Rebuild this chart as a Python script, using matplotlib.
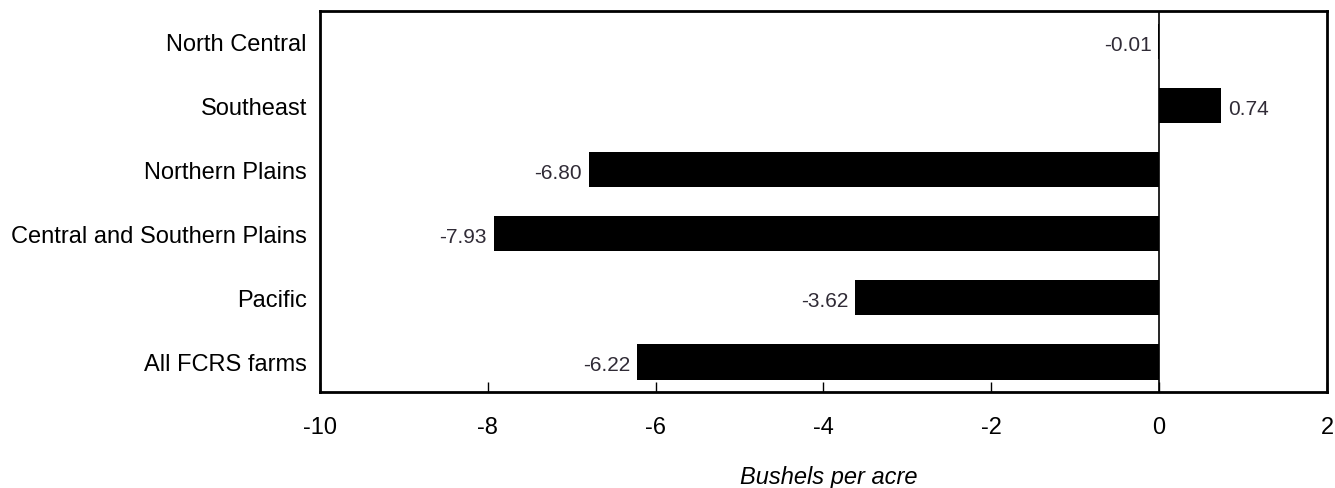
import matplotlib
matplotlib.use("Agg")
import matplotlib.pyplot as plt

categories = ["North Central", "Southeast", "Northern Plains",
              "Central and Southern Plains", "Pacific", "All FCRS farms"]
values = [-0.01, 0.74, -6.80, -7.93, -3.62, -6.22]
value_labels = ["-0.01", "0.74", "-6.80", "-7.93", "-3.62", "-6.22"]
xticks = [-10, -8, -6, -4, -2, 0, 2]

plt.rcParams['font.family'] = ['Liberation Sans', 'DejaVu Sans']

fig = plt.figure(figsize=(13.35, 4.89), dpi=100)
ax = fig.add_axes([320/1335, 1-393/489, 1007/1335, 381/489])

ypos = list(range(len(categories)))
ax.barh(ypos, values, height=0.55, color='black', zorder=2)
ax.axvline(0, color='black', lw=1.2, zorder=3)

for y, v, lab in zip(ypos, values, value_labels):
    if v < 0:
        ax.annotate(lab, (v, y), xytext=(-5, -2), textcoords='offset points',
                    ha='right', va='center', fontsize=15, color='#302b36')
    else:
        ax.annotate(lab, (v, y), xytext=(5, -2), textcoords='offset points',
                    ha='left', va='center', fontsize=15, color='#302b36')

ax.set_xlim(-10, 2)
ax.set_ylim(5.47, -0.48)
ax.set_yticks(ypos)
ax.set_yticklabels(categories, fontsize=17)
ax.tick_params(axis='y', length=0, pad=9.5)
ax.set_xticks(xticks)
ax.set_xticklabels([str(t) for t in xticks], fontsize=17)
ax.tick_params(axis='x', direction='in', length=7, width=1, pad=17)
for s in ax.spines.values():
    s.set_linewidth(2)
fig.text(829/1335, 1-478/489, "Bushels per acre", fontsize=17, style='italic',
         ha='center', va='center')

fig.savefig("out.png", dpi=100)
